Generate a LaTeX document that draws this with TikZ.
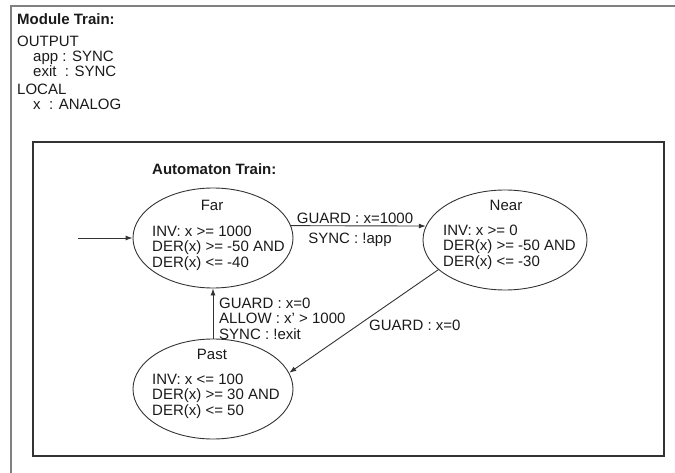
\documentclass[tikz,border=0pt]{standalone}
\usepackage{fontspec}
\setmainfont{Liberation Sans}
\usetikzlibrary{arrows.meta,shapes.geometric}
\definecolor{linec}{HTML}{333333}
\definecolor{txt}{HTML}{1A1A1A}
\begin{document}
\begin{tikzpicture}[x=1pt,y=-1pt,
  font=\fontsize{15}{15.5}\selectfont,
  state/.style={ellipse, draw=linec, line width=0.9pt, minimum width=160pt, minimum height=100pt, inner sep=0pt},
  body/.style={anchor=north west, inner sep=0pt, align=left, text=txt},
  txtb/.style={anchor=base west, inner sep=0pt, text=txt},
  ttl/.style={inner sep=0pt, text=txt},
  edge/.style={draw=linec, line width=0.9pt, -{Latex[length=7pt,width=5pt]}}]
\useasboundingbox (0,0) rectangle (675,473);
% outer frame (top and left visible)
\draw[gray, line width=1.2pt] (11,473) -- (11,6) -- (675,6);
% module declarations
\node[txtb, font=\fontsize{15}{15.5}\selectfont\bfseries] (modt) at (17,25) {Module Train:};
\node[txtb] (outp) at (17,47) {OUTPUT};
\node[txtb] (appd) at (33,61.5) {app : SYNC};
\node[txtb] (exitd) at (33,76.5) {exit\ \ : SYNC};
\node[txtb] (locl) at (17,94.5) {LOCAL};
\node[txtb] (xd) at (33,109.5) {x\ \ : ANALOG};
% automaton frame
\draw[linec, line width=1.1pt] (33,142) rectangle (664,456);
\node[txtb, font=\fontsize{15}{15.5}\selectfont\bfseries] (autt) at (152,174.5) {Automaton Train:};
% states
\node[state] (far) at (213,238) {};
\node[state, minimum width=164pt] (near) at (505,240) {};
\node[state] (past) at (213,389) {};
% state texts
\node[ttl] (farT) at (212,205) {Far};
\node[body] (farB) at (152,225.5) {INV: x >= 1000\\DER(x) >= -50 AND\\DER(x) <= -40};
\node[ttl] (nearT) at (506,205) {Near};
\node[body] (nearB) at (443,224.5) {INV: x >= 0\\DER(x) >= -50 AND\\DER(x) <= -30};
\node[ttl] (pastT) at (212,354) {Past};
\node[body] (pastB) at (152,373.5) {INV: x <= 100\\DER(x) >= 30 AND\\DER(x) <= 50};
% initial arrow
\coordinate (init) at (78,238);
\draw[edge] (init) -- (far.west);
% transitions
\draw[edge] (far.9) -- (near.170);
\node[txtb, anchor=base] (g1) at (355,223.5) {GUARD : x=1000};
\node[txtb, anchor=base] (s1) at (350,243.5) {SYNC : !app};
\draw[edge] (near.204) -- (past.12);
\node[txtb] (g2) at (369,330.5) {GUARD : x=0};
\draw[edge] (past.north) -- (far.south);
\node[body] (g3) at (219,297.5) {GUARD : x=0\\ALLOW : x' > 1000\\SYNC : !exit};
\end{tikzpicture}
\end{document}
